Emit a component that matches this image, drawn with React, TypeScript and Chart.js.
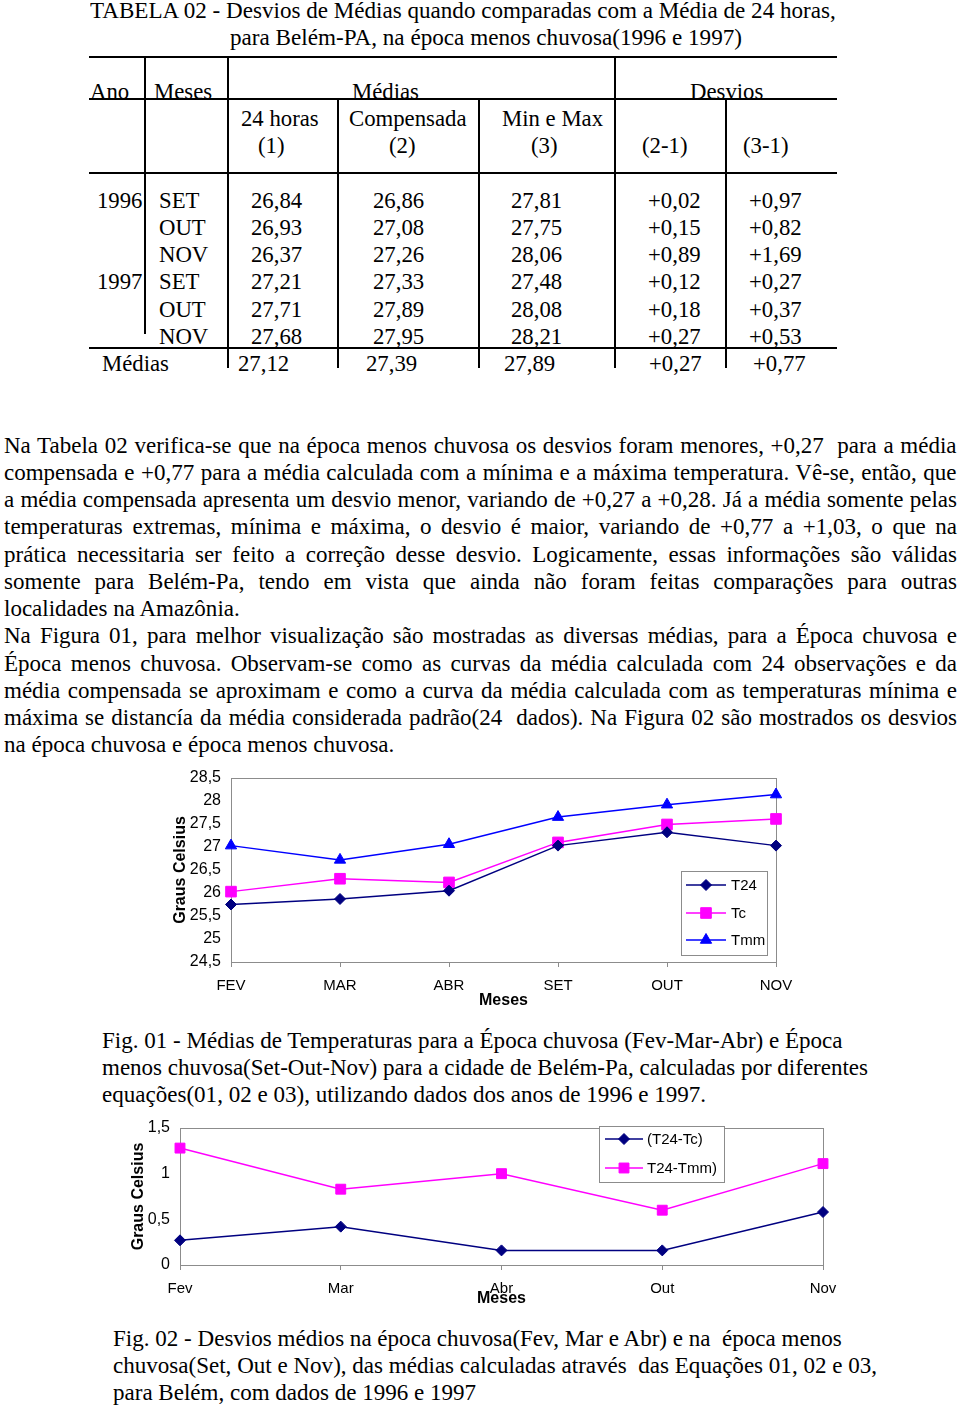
import React, { useEffect, useRef } from "react";
import { Chart, registerables } from "chart.js";

Chart.register(...registerables);

// ---------------- DATA ----------------
const tableYears = ["1996", "", "", "1997", "", ""];
const tableMonths = ["SET", "OUT", "NOV", "SET", "OUT", "NOV"];
const tableT24 = [26.84, 26.93, 26.37, 27.21, 27.71, 27.68];
const tableComp = [26.86, 27.08, 27.26, 27.33, 27.89, 27.95];
const tableMinMax = [27.81, 27.75, 28.06, 27.48, 28.08, 28.21];
const tableDev21 = [0.02, 0.15, 0.89, 0.12, 0.18, 0.27];
const tableDev31 = [0.97, 0.82, 1.69, 0.27, 0.37, 0.53];
const tableMeans = [27.12, 27.39, 27.89];
const tableMeanDevs = [0.27, 0.77];

const fig1Months = ["FEV", "MAR", "ABR", "SET", "OUT", "NOV"];
const fig1T24 = [25.75, 25.87, 26.05, 27.03, 27.32, 27.03];
const fig1Tc = [26.03, 26.31, 26.23, 27.1, 27.49, 27.61];
const fig1Tmm = [27.03, 26.72, 27.06, 27.65, 27.92, 28.14];
const fig1Labels = ["T24", "Tc", "Tmm"];

const fig2Months = ["Fev", "Mar", "Abr", "Out", "Nov"];
const fig2DevTc = [0.27, 0.42, 0.16, 0.16, 0.58];
const fig2DevTmm = [1.28, 0.83, 1.0, 0.6, 1.11];
const fig2Labels = ["(T24-Tc)", "T24-Tmm)"];

const paragraphLines = [
  "Na Tabela 02 verifica-se que na época menos chuvosa os desvios foram menores, +0,27  para a média",
  "compensada e +0,77 para a média calculada com a mínima e a máxima temperatura. Vê-se, então, que",
  "a média compensada apresenta um desvio menor, variando de +0,27 a +0,28. Já a média somente pelas",
  "temperaturas extremas, mínima e máxima, o desvio é maior, variando de +0,77 a +1,03, o que na",
  "prática necessitaria ser feito a correção desse desvio. Logicamente, essas informações são válidas",
  "somente para Belém-Pa, tendo em vista que ainda não foram feitas comparações para outras",
  "localidades na Amazônia.",
  "Na Figura 01, para melhor visualização são mostradas as diversas médias, para a Época chuvosa e",
  "Época menos chuvosa. Observam-se como as curvas da média calculada com 24 observações e da",
  "média compensada se aproximam e como a curva da média calculada com as temperaturas mínima e",
  "máxima se distancía da média considerada padrão(24  dados). Na Figura 02 são mostrados os desvios",
  "na época chuvosa e época menos chuvosa.",
];
const paragraphEnds = [false, false, false, false, false, false, true, false, false, false, false, true];

const caption1 = [
  "Fig. 01 - Médias de Temperaturas para a Época chuvosa (Fev-Mar-Abr) e Época",
  "menos chuvosa(Set-Out-Nov) para a cidade de Belém-Pa, calculadas por diferentes",
  "equações(01, 02 e 03), utilizando dados dos anos de 1996 e 1997.",
];
const caption2 = [
  "Fig. 02 - Desvios médios na época chuvosa(Fev, Mar e Abr) e na  época menos",
  "chuvosa(Set, Out e Nov), das médias calculadas através  das Equações 01, 02 e 03,",
  "para Belém, com dados de 1996 e 1997",
];

// ---------------- HELPERS ----------------
const SERIF = "'Liberation Serif', 'Times New Roman', serif";
const SANS = "'Liberation Sans', Arial, sans-serif";

let mctx: CanvasRenderingContext2D | null = null;
function measure(text: string, font: string): number {
  if (!mctx) mctx = document.createElement("canvas").getContext("2d");
  mctx!.font = font;
  return mctx!.measureText(text).width;
}

const fmt = (v: number) => v.toFixed(2).replace(".", ",");
const fmtS = (v: number) => "+" + fmt(v);

type TProps = {
  text: string;
  x: number;
  y: number;
  size?: number;
  w?: number;
  sx?: number;
  align?: "left" | "center" | "right";
  justify?: boolean;
  lh?: number;
};

function T({ text, x, y, size = 23, w, sx, align = "left", justify = false, lh = 27 }: TProps) {
  const font = `${size}px ${SERIF}`;
  const nat = measure(text, font);
  let scale = sx ?? 1;
  let ws = 0;
  if (w !== undefined && !justify) scale = w / nat;
  if (w !== undefined && justify) {
    const n = (text.match(/ /g) || []).length;
    ws = n ? (w / scale - nat) / n : 0;
  }
  const width = w !== undefined ? w : nat * scale;
  const left = align === "center" ? x - width / 2 : align === "right" ? x - width : x;
  return (
    <div
      style={{
        position: "absolute",
        left,
        top: y - lh / 2,
        height: lh,
        lineHeight: `${lh}px`,
        fontFamily: SERIF,
        fontSize: size,
        whiteSpace: "pre",
        transform: `scaleX(${scale})`,
        transformOrigin: "0 50%",
        wordSpacing: ws,
        color: "#000",
      }}
    >
      {text}
    </div>
  );
}

function HR({ x1, x2, y }: { x1: number; x2: number; y: number }) {
  return <div style={{ position: "absolute", left: x1, top: y - 1, width: x2 - x1, height: 2, background: "#000" }} />;
}
function VR({ x, y1, y2 }: { x: number; y1: number; y2: number }) {
  return <div style={{ position: "absolute", left: x - 1, top: y1, width: 2, height: y2 - y1, background: "#000" }} />;
}

function drawMarker(ctx: CanvasRenderingContext2D, style: string, x: number, y: number, r: number, color: string) {
  ctx.save();
  ctx.fillStyle = color;
  ctx.strokeStyle = color;
  ctx.lineWidth = 1;
  ctx.beginPath();
  if (style === "rect") {
    const s = Math.SQRT1_2 * r;
    ctx.rect(x - s, y - s, 2 * s, 2 * s);
  } else if (style === "rectRot") {
    ctx.moveTo(x, y - r);
    ctx.lineTo(x + r, y);
    ctx.lineTo(x, y + r);
    ctx.lineTo(x - r, y);
    ctx.closePath();
  } else {
    let a = 0;
    ctx.moveTo(x + Math.sin(a) * r, y - Math.cos(a) * r);
    a += (2 * Math.PI) / 3;
    ctx.lineTo(x + Math.sin(a) * r, y - Math.cos(a) * r);
    a += (2 * Math.PI) / 3;
    ctx.lineTo(x + Math.sin(a) * r, y - Math.cos(a) * r);
    ctx.closePath();
  }
  ctx.fill();
  ctx.stroke();
  ctx.restore();
}

function framePlugin() {
  return {
    id: "frame",
    beforeDatasetsDraw(chart: any) {
      const { ctx, chartArea: a } = chart;
      ctx.save();
      ctx.strokeStyle = "#8c8c8c";
      ctx.lineWidth = 1;
      ctx.strokeRect(Math.round(a.left) + 0.5, Math.round(a.top) + 0.5, Math.round(a.right - a.left), Math.round(a.bottom - a.top));
      ctx.restore();
    },
  };
}

type LegendLayout = { bx: number; by: number; bw: number; bh: number; rows: number[]; lx1: number; lx2: number; mx: number; tx: number };

function legendPlugin(L: LegendLayout) {
  return {
    id: "boxLegend",
    afterDraw(chart: any) {
      const ctx = chart.ctx as CanvasRenderingContext2D;
      ctx.save();
      ctx.fillStyle = "#fff";
      ctx.fillRect(L.bx, L.by, L.bw, L.bh);
      ctx.strokeStyle = "#8c8c8c";
      ctx.lineWidth = 1;
      ctx.strokeRect(L.bx + 0.5, L.by + 0.5, L.bw, L.bh);
      chart.data.datasets.forEach((ds: any, i: number) => {
        const ry = L.rows[i];
        ctx.strokeStyle = ds.borderColor;
        ctx.lineWidth = ds.borderWidth;
        ctx.beginPath();
        ctx.moveTo(L.lx1, ry);
        ctx.lineTo(L.lx2, ry);
        ctx.stroke();
        drawMarker(ctx, ds.pointStyle, L.mx, ry, ds.pointRadius, ds.backgroundColor);
        ctx.fillStyle = "#000";
        ctx.font = `15px ${SANS}`;
        ctx.textBaseline = "middle";
        ctx.textAlign = "left";
        ctx.fillText(ds.label, L.tx, ry + 1);
      });
      ctx.restore();
    },
  };
}

function ChartBox({ left, top, width, height, make }: { left: number; top: number; width: number; height: number; make: () => any }) {
  const ref = useRef<HTMLCanvasElement>(null);
  useEffect(() => {
    const chart = new Chart(ref.current!, make());
    return () => chart.destroy();
  }, []);
  return <canvas ref={ref} width={width} height={height} style={{ position: "absolute", left, top, width, height, display: "block" }} />;
}

const comma = (v: any) => String(v).replace(".", ",");

const fixX = (h: number) => (s: any) => {
  s.height = h;
  s.paddingLeft = 0;
  s.paddingRight = 0;
  s.paddingTop = 0;
  s.paddingBottom = 0;
};
const fixY = (w: number) => (s: any) => {
  s.width = w;
  s.paddingLeft = 0;
  s.paddingRight = 0;
  s.paddingTop = 0;
  s.paddingBottom = 0;
};

function makeFig1() {
  return {
    type: "line",
    data: {
      labels: fig1Months,
      datasets: [
        { label: fig1Labels[0], data: fig1T24, borderColor: "#000080", backgroundColor: "#000080", pointStyle: "rectRot", pointRadius: 5.5, borderWidth: 1.5, pointBorderWidth: 1, clip: false },
        { label: fig1Labels[1], data: fig1Tc, borderColor: "#ff00ff", backgroundColor: "#ff00ff", pointStyle: "rect", pointRadius: 7.5, borderWidth: 1.5, pointBorderWidth: 1, clip: false },
        { label: fig1Labels[2], data: fig1Tmm, borderColor: "#0000ff", backgroundColor: "#0000ff", pointStyle: "triangle", pointRadius: 6.5, borderWidth: 1.5, pointBorderWidth: 1, clip: false },
      ],
    },
    options: {
      responsive: false,
      animation: false,
      devicePixelRatio: 1,
      layout: { autoPadding: false, padding: { left: 0, top: 13, right: 24, bottom: 0 } },
      plugins: { legend: { display: false }, tooltip: { enabled: false } },
      scales: {
        x: {
          grid: { drawOnChartArea: false, drawTicks: true, tickLength: 5, color: "#8c8c8c" },
          border: { display: false },
          ticks: { font: { family: SANS, size: 15 }, color: "#000", padding: 10, maxRotation: 0 },
          title: { display: true, text: "Meses", font: { family: SANS, size: 16, weight: "bold" }, color: "#000", padding: { top: 0, bottom: 0 } },
          afterFit: fixX(48),
        },
        y: {
          min: 24.5,
          max: 28.5,
          grid: { drawOnChartArea: false, drawTicks: false },
          border: { display: false },
          ticks: { stepSize: 0.5, callback: comma, font: { family: SANS, size: 16 }, color: "#000", padding: 10 },
          title: { display: true, text: "Graus Celsius", font: { family: SANS, size: 16, weight: "bold" }, color: "#000", padding: { top: 11.4, bottom: 0 } },
          afterFit: fixY(71),
        },
      },
    },
    plugins: [
      framePlugin(),
      legendPlugin({ bx: 521, by: 106, bw: 86, bh: 84, rows: [120, 148, 175], lx1: 526, lx2: 566, mx: 546, tx: 571 }),
    ],
  };
}

function makeFig2() {
  return {
    type: "line",
    data: {
      labels: fig2Months,
      datasets: [
        { label: fig2Labels[0], data: fig2DevTc, borderColor: "#000080", backgroundColor: "#000080", pointStyle: "rectRot", pointRadius: 5.5, borderWidth: 1.5, pointBorderWidth: 1, clip: false },
        { label: fig2Labels[1], data: fig2DevTmm, borderColor: "#ff00ff", backgroundColor: "#ff00ff", pointStyle: "rect", pointRadius: 7, borderWidth: 1.5, pointBorderWidth: 1, clip: false },
      ],
    },
    options: {
      responsive: false,
      animation: false,
      devicePixelRatio: 1,
      layout: { autoPadding: false, padding: { left: 0, top: 13, right: 17, bottom: 0 } },
      plugins: { legend: { display: false }, tooltip: { enabled: false } },
      scales: {
        x: {
          grid: { drawOnChartArea: false, drawTicks: true, tickLength: 5, color: "#8c8c8c" },
          border: { display: false },
          ticks: { font: { family: SANS, size: 15 }, color: "#000", padding: 10, maxRotation: 0 },
          title: { display: true, text: "Meses", font: { family: SANS, size: 16, weight: "bold" }, color: "#000", padding: { top: 0, bottom: 2 } },
          afterFit: fixX(45),
        },
        y: {
          min: 0,
          max: 1.5,
          grid: { drawOnChartArea: false, drawTicks: false },
          border: { display: false },
          ticks: { stepSize: 0.5, callback: comma, font: { family: SANS, size: 16 }, color: "#000", padding: 10 },
          title: { display: true, text: "Graus Celsius", font: { family: SANS, size: 16, weight: "bold" }, color: "#000", padding: { top: 19.4, bottom: 0 } },
          afterFit: fixY(70),
        },
      },
    },
    plugins: [
      framePlugin(),
      legendPlugin({ bx: 489, by: 11, bw: 125, bh: 56, rows: [24, 53], lx1: 495, lx2: 533, mx: 514, tx: 537 }),
    ],
  };
}

// ---------------- APP ----------------
export default function App() {
  const tsx = 117.5 / measure("Compensada", `23px ${SERIF}`);
  const psx = 237 / measure("localidades na Amazônia.", `23px ${SERIF}`);
  const rowY = [200, 227, 254, 281, 309, 336];
  const meanY = 363;

  return (
    <div style={{ position: "absolute", left: 0, top: 0, width: 960, height: 1407, background: "#fff", overflow: "hidden" }}>
      {/* Table title */}
      <T text="TABELA 02 - Desvios de Médias quando comparadas com a Média de 24 horas," x={90} y={10} w={747} />
      <T text="para Belém-PA, na época menos chuvosa(1996 e 1997)" x={230} y={37} w={512} />

      {/* Table rules */}
      <HR x1={89} x2={837} y={57} />
      <HR x1={89} x2={837} y={99} />
      <HR x1={89} x2={837} y={173} />
      <HR x1={89} x2={837} y={348} />
      <VR x={145} y1={57} y2={334} />
      <VR x={228} y1={57} y2={368} />
      <VR x={338} y1={99} y2={368} />
      <VR x={479} y1={99} y2={368} />
      <VR x={615} y1={57} y2={368} />
      <VR x={726} y1={99} y2={368} />

      {/* Headers */}
      <T text="Ano" x={90} y={91} sx={tsx} />
      <T text="Meses" x={154} y={91} sx={tsx} />
      <T text="Médias" x={385} y={91} sx={tsx} align="center" />
      <T text="Desvios" x={727} y={91} sx={tsx} align="center" />
      <T text="24 horas" x={280} y={118} sx={tsx} align="center" />
      <T text="Compensada" x={408} y={118} sx={tsx} align="center" />
      <T text="Min e Max" x={553} y={118} sx={tsx} align="center" />
      <T text="(1)" x={271} y={145} sx={tsx} align="center" />
      <T text="(2)" x={402} y={145} sx={tsx} align="center" />
      <T text="(3)" x={544} y={145} sx={tsx} align="center" />
      <T text="(2-1)" x={665} y={145} sx={tsx} align="center" />
      <T text="(3-1)" x={766} y={145} sx={tsx} align="center" />

      {/* Table rows */}
      {tableMonths.map((m, i) => (
        <React.Fragment key={i}>
          {tableYears[i] && <T text={tableYears[i]} x={142} y={rowY[i]} sx={tsx} align="right" />}
          <T text={m} x={159} y={rowY[i]} sx={tsx} />
          <T text={fmt(tableT24[i])} x={277} y={rowY[i]} sx={tsx} align="center" />
          <T text={fmt(tableComp[i])} x={399} y={rowY[i]} sx={tsx} align="center" />
          <T text={fmt(tableMinMax[i])} x={537} y={rowY[i]} sx={tsx} align="center" />
          <T text={fmtS(tableDev21[i])} x={674} y={rowY[i]} sx={tsx} align="center" />
          <T text={fmtS(tableDev31[i])} x={775} y={rowY[i]} sx={tsx} align="center" />
        </React.Fragment>
      ))}
      <T text="Médias" x={102} y={meanY} sx={tsx} />
      <T text={fmt(tableMeans[0])} x={264} y={meanY} sx={tsx} align="center" />
      <T text={fmt(tableMeans[1])} x={392} y={meanY} sx={tsx} align="center" />
      <T text={fmt(tableMeans[2])} x={530} y={meanY} sx={tsx} align="center" />
      <T text={fmtS(tableMeanDevs[0])} x={675} y={meanY} sx={tsx} align="center" />
      <T text={fmtS(tableMeanDevs[1])} x={779} y={meanY} sx={tsx} align="center" />

      {/* Paragraphs */}
      {paragraphLines.map((line, i) => (
        <T key={i} text={line} x={4} y={445 + i * 27.27} sx={psx} w={paragraphEnds[i] ? undefined : 953} justify={!paragraphEnds[i]} />
      ))}

      {/* Figure 1 */}
      <ChartBox left={160} top={765} width={640} height={245} make={makeFig1} />
      <T text={caption1[0]} x={102} y={1040} w={741} />
      <T text={caption1[1]} x={102} y={1067} w={766} />
      <T text={caption1[2]} x={102} y={1094} w={604} />

      {/* Figure 2 */}
      <ChartBox left={110} top={1115} width={730} height={195} make={makeFig2} />
      <T text={caption2[0]} x={113} y={1338} w={730} />
      <T text={caption2[1]} x={113} y={1365} w={764} />
      <T text={caption2[2]} x={113} y={1392} w={363} />
    </div>
  );
}
